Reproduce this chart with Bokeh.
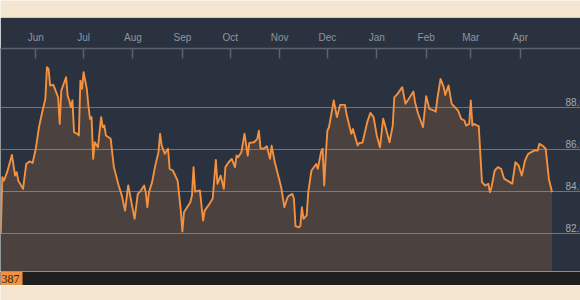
import pandas as pd
from datetime import datetime
from bokeh.plotting import figure
from bokeh.layouts import column
from bokeh.models import Range1d, FixedTicker, DatetimeTickFormatter, BoxAnnotation, Label
from bokeh.core.properties import value
from bokeh.embed import file_html
from bokeh.resources import INLINE

# ---------------- data ----------------
dates = [
    "2014-05-10", "2014-05-11", "2014-05-12", "2014-05-14", "2014-05-17", "2014-05-19", "2014-05-20",
    "2014-05-21", "2014-05-24", "2014-05-26", "2014-05-28", "2014-05-30", "2014-06-01", "2014-06-03",
    "2014-06-05", "2014-06-07", "2014-06-08", "2014-06-09", "2014-06-10", "2014-06-12", "2014-06-13",
    "2014-06-15", "2014-06-16", "2014-06-17", "2014-06-20", "2014-06-21", "2014-06-22", "2014-06-23",
    "2014-06-24", "2014-06-25", "2014-06-27", "2014-06-28", "2014-06-29", "2014-06-30", "2014-07-01",
    "2014-07-03", "2014-07-04", "2014-07-05", "2014-07-06", "2014-07-07", "2014-07-08", "2014-07-10",
    "2014-07-12", "2014-07-13", "2014-07-14", "2014-07-15", "2014-07-18", "2014-07-20", "2014-07-23",
    "2014-07-25", "2014-07-27", "2014-07-29", "2014-07-31", "2014-08-02", "2014-08-04", "2014-08-06",
    "2014-08-08", "2014-08-09", "2014-08-10", "2014-08-11", "2014-08-13", "2014-08-15", "2014-08-17",
    "2014-08-18", "2014-08-19", "2014-08-21", "2014-08-23", "2014-08-24", "2014-08-26", "2014-08-29",
    "2014-08-31", "2014-09-01", "2014-09-02", "2014-09-04", "2014-09-06", "2014-09-07", "2014-09-08",
    "2014-09-09", "2014-09-12", "2014-09-14", "2014-09-15", "2014-09-18", "2014-09-20", "2014-09-22",
    "2014-09-23", "2014-09-25", "2014-09-27", "2014-09-28", "2014-09-30", "2014-10-02", "2014-10-04",
    "2014-10-05", "2014-10-06", "2014-10-08", "2014-10-10", "2014-10-12", "2014-10-13", "2014-10-16",
    "2014-10-18", "2014-10-19", "2014-10-20", "2014-10-22", "2014-10-24", "2014-10-26", "2014-10-27",
    "2014-10-29", "2014-11-02", "2014-11-04", "2014-11-06", "2014-11-07", "2014-11-09", "2014-11-10",
    "2014-11-11", "2014-11-13", "2014-11-14", "2014-11-15", "2014-11-16", "2014-11-18", "2014-11-19",
    "2014-11-21", "2014-11-24", "2014-11-25", "2014-11-27", "2014-11-28", "2014-11-29", "2014-11-30",
    "2014-12-01", "2014-12-02", "2014-12-05", "2014-12-07", "2014-12-09", "2014-12-12", "2014-12-13",
    "2014-12-16", "2014-12-17", "2014-12-20", "2014-12-21", "2014-12-23", "2014-12-26", "2014-12-28",
    "2014-12-30", "2015-01-01", "2015-01-03", "2015-01-05", "2015-01-06", "2015-01-09", "2015-01-11",
    "2015-01-12", "2015-01-14", "2015-01-17", "2015-01-19", "2015-01-21", "2015-01-24", "2015-01-25",
    "2015-01-27", "2015-01-30", "2015-02-01", "2015-02-03", "2015-02-06", "2015-02-07", "2015-02-08",
    "2015-02-10", "2015-02-12", "2015-02-13", "2015-02-15", "2015-02-17", "2015-02-19", "2015-02-21",
    "2015-02-23", "2015-02-25", "2015-02-26", "2015-02-28", "2015-03-01", "2015-03-02", "2015-03-03",
    "2015-03-05", "2015-03-06", "2015-03-08", "2015-03-10", "2015-03-12", "2015-03-13", "2015-03-14",
    "2015-03-16", "2015-03-18", "2015-03-20", "2015-03-22", "2015-03-24", "2015-03-27", "2015-03-29",
    "2015-03-31", "2015-04-02", "2015-04-04", "2015-04-06", "2015-04-10", "2015-04-12", "2015-04-13",
    "2015-04-15", "2015-04-17", "2015-04-19", "2015-04-21",
]
values = [
    82.00, 84.68, 84.52, 84.92, 85.74, 84.76, 84.92,
    84.52, 84.13, 85.31, 85.43, 85.36, 86.03, 87.05,
    87.76, 88.39, 89.90, 89.82, 89.03, 89.06, 88.87,
    88.47, 87.21, 88.79, 89.42, 88.55, 88.32, 88.00,
    88.32, 86.82, 86.74, 86.66, 89.26, 88.87, 89.66,
    88.87, 88.08, 87.45, 87.53, 85.55, 86.34, 86.10,
    87.53, 87.05, 87.13, 86.66, 86.50, 85.16, 84.29,
    83.81, 83.10, 84.29, 83.50, 82.71, 83.89, 84.05,
    84.29, 83.97, 83.26, 83.97, 84.45, 85.24, 85.87,
    86.74, 86.18, 85.79, 86.03, 85.08, 85.00, 84.52,
    83.10, 82.11, 83.02, 83.26, 83.50, 83.81, 85.16,
    84.00, 84.05, 82.63, 83.10, 83.42, 83.66, 85.50,
    84.37, 84.76, 84.13, 85.16, 85.39, 85.55, 85.16,
    85.71, 85.63, 85.87, 86.74, 85.71, 86.31, 86.34,
    86.50, 86.89, 86.06, 86.03, 86.15, 85.55, 86.18,
    85.39, 84.21, 83.26, 83.73, 83.81, 83.89, 83.66,
    82.36, 82.31, 82.36, 83.26, 82.71, 82.87, 83.97,
    85.00, 85.31, 85.08, 85.87, 86.03, 84.29, 85.71,
    86.89, 87.05, 88.32, 87.53, 88.11, 88.11, 87.68,
    86.74, 86.97, 86.18, 86.31, 86.31, 87.29, 87.73,
    87.53, 86.66, 86.10, 87.45, 87.20, 86.34, 87.13,
    88.47, 88.63, 88.95, 88.16, 88.39, 88.74, 88.24,
    87.68, 87.05, 88.52, 87.92, 87.84, 87.79, 88.39,
    89.34, 88.95, 88.58, 89.03, 88.16, 88.00, 87.84,
    87.45, 87.37, 87.13, 87.21, 88.32, 87.13, 87.21,
    87.13, 87.10, 84.45, 84.29, 84.37, 83.97, 84.21,
    85.00, 85.16, 85.08, 84.60, 84.52, 84.37, 85.39,
    85.24, 84.76, 85.47, 85.79, 85.95, 85.95, 86.26,
    86.18, 86.03, 84.60, 83.97,
]
month_ticks = ["2014-06-01", "2014-07-01", "2014-08-01", "2014-09-01", "2014-10-01", "2014-11-01",
               "2014-12-01", "2015-01-01", "2015-02-01", "2015-03-01", "2015-04-01"]
y_ticks = [82, 84, 86, 88]
y_labels = ["82.00", "84.00", "86.00", "88.00"]
badge_text = "387"

# ---------------- style ----------------
CREAM = "#f3e5cf"
DARK = "#29323e"
STRIP = "#1f1f1f"
ORANGE = "#f39140"
AXIS = "#5b636f"
GRID = "#6e757e"
LABEL = "#8d95a1"
YLABEL = "#a3a9b2"

X_START = datetime(2014, 5, 9, 20, 18)
X_END = datetime(2015, 5, 8, 20, 24)
Y_START = 80.213
Y_END = 90.782
FRAME_H = 223
PX_PER_UNIT = FRAME_H / (Y_END - Y_START)
LABEL_LIFT_PX = 5.5

dt = pd.to_datetime(dates)
tick_ms = [int(t.value // 10**6) for t in pd.to_datetime(month_ticks)]
label_y = [t + LABEL_LIFT_PX / PX_PER_UNIT for t in y_ticks]

common = dict(output_backend="svg", toolbar_location=None, min_border=0,
              min_border_left=0, min_border_right=0, min_border_top=0, min_border_bottom=0,
              outline_line_color=None, x_axis_location=None, y_axis_location=None)

# top cream band
top = figure(width=580, height=17, x_range=Range1d(0, 1), y_range=Range1d(0, 1),
             background_fill_color=CREAM, border_fill_color=CREAM, **common)
top.grid.visible = False

# main chart
p = figure(width=580, height=254, x_axis_type="datetime", x_axis_location="above",
           y_axis_location=None, x_range=Range1d(X_START, X_END),
           y_range=Range1d(Y_START, Y_END), output_backend="svg", toolbar_location=None,
           min_border_top=31, min_border_bottom=0, min_border_left=0, min_border_right=0,
           background_fill_color=DARK, border_fill_color=DARK, outline_line_color=None)

p.xgrid.visible = False
p.ygrid.ticker = FixedTicker(ticks=y_ticks)
p.ygrid.grid_line_color = GRID
p.ygrid.grid_line_width = 1

ax = p.xaxis[0]
ax.ticker = FixedTicker(ticks=tick_ms)
ax.formatter = DatetimeTickFormatter(days="%b", months="%b", years="%b", hours="%b")
ax.major_tick_in = 10
ax.major_tick_out = 0
ax.minor_tick_in = 0
ax.minor_tick_out = 0
ax.axis_line_color = AXIS
ax.axis_line_width = 1.5
ax.major_tick_line_color = AXIS
ax.major_tick_line_width = 1.5
ax.major_label_text_color = LABEL
ax.major_label_text_font = "Liberation Sans"
ax.major_label_text_font_size = "10px"
ax.major_label_standoff = 6

p.varea(x=dt, y1=Y_START, y2=values, fill_color=ORANGE, fill_alpha=0.17)
p.line(x=dt, y=values, line_color=ORANGE, line_width=1.9, line_join="round")

p.text(x=[X_END] * len(y_ticks), y=label_y, text=y_labels, x_offset=-15,
       text_baseline="alphabetic", text_align="left", text_font=value("Liberation Sans"),
       text_font_size="10px", text_color=YLABEL)

# bottom dark strip with badge
strip = figure(width=580, height=14, x_range=Range1d(0, 580), y_range=Range1d(0, 14),
               background_fill_color=STRIP, border_fill_color=STRIP, **common)
strip.grid.visible = False
strip.add_layout(BoxAnnotation(left=0, right=22, fill_color=ORANGE, fill_alpha=1.0, line_color=None))
strip.add_layout(Label(x=1, y=7, text=badge_text, text_baseline="middle", text_align="left",
                       text_font="Liberation Serif", text_font_size="12px", text_color="#2e2118"))

# bottom cream band
bottom = figure(width=580, height=15, x_range=Range1d(0, 1), y_range=Range1d(0, 1),
                background_fill_color=CREAM, border_fill_color=CREAM, **common)
bottom.grid.visible = False

layout = column(top, p, strip, bottom, spacing=0)

open("out.html", "w").write(file_html(layout, INLINE))
